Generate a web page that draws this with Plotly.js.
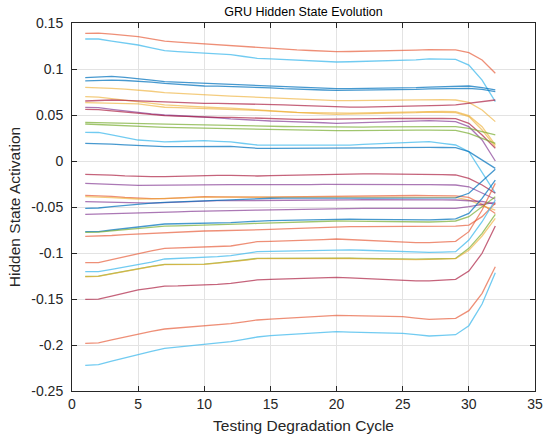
<!DOCTYPE html>
<html>
<head>
<meta charset="utf-8">
<script src="https://cdn.plot.ly/plotly-3.0.1.min.js"></script>
<style>html,body{margin:0;padding:0;background:#fff;}#chart{width:550px;height:441px;}</style>
</head>
<body>
<div id="chart"></div>
<script>
// Testing degradation cycles
const cycles = [1,2,3,4,5,6,7,8,9,10,11,12,13,14,15,16,17,18,19,20,21,22,23,24,25,26,27,28,29,30,31,32];

// Hidden state activations (one array per hidden unit)
const unit01 = [.1388,.1391,.1378,.1364,.1351,.1328,.1304,.1293,.1283,.1272,.1265,.1257,.1245,.1232,.1224,.1215,.1207,.1201,.1194,.1188,.119,.1192,.1195,.1197,.1199,.1205,.121,.1209,.1207,.1178,.1098,.0953];
const unit02 = [.1326,.1326,.1304,.1283,.1261,.123,.1199,.1189,.118,.117,.1163,.1156,.1136,.1116,.111,.1104,.1098,.1091,.1083,.1076,.1079,.1082,.1084,.1087,.109,.11,.1109,.1107,.1105,.1043,.088,.0645];
const unit03 = [.0906,.0913,.092,.091,.0899,.088,.0862,.0856,.085,.0844,.084,.0835,.0827,.0819,.0814,.0809,.0804,.0798,.0792,.0786,.0787,.0788,.0788,.0789,.079,.0797,.0804,.081,.0815,.0815,.0797,.0772];
const unit04 = [.087,.0875,.088,.0875,.087,.0857,.0844,.0834,.0825,.0815,.0813,.081,.0806,.0801,.0794,.0786,.0779,.0775,.0772,.0768,.0769,.077,.077,.0771,.0772,.0778,.0783,.0787,.079,.079,.0779,.0754];
const unit05 = [.080,.0798,.0789,.0781,.0772,.0758,.0743,.0734,.0726,.0717,.0711,.0705,.0699,.0692,.0685,.0677,.067,.0665,.0661,.0656,.0657,.0659,.066,.0662,.0663,.0667,.067,.0667,.0663,.0637,.0554,.0428];
const unit06 = [.0699,.0694,.0678,.0661,.0645,.0627,.0609,.0601,.0592,.0584,.0579,.0574,.0564,.0554,.0546,.0537,.0529,.0525,.0522,.0518,.0521,.0524,.0527,.053,.0533,.0539,.0544,.054,.0536,.0493,.0373,.0174];
const unit07 = [.0652,.0658,.0663,.0658,.0652,.0645,.0638,.0634,.0631,.0627,.0626,.0624,.0622,.062,.0615,.061,.0605,.0598,.0591,.0584,.0585,.0586,.0588,.0589,.059,.0594,.0598,.0604,.0609,.0627,.0645,.0663];
const unit08 = [.0634,.0632,.0628,.0624,.062,.0602,.0584,.058,.0576,.0572,.0567,.0561,.0556,.055,.0542,.0533,.0525,.0519,.0513,.0507,.0509,.0511,.0514,.0516,.0518,.0525,.0532,.0529,.0525,.0482,.0337,.0156];
const unit09 = [.0583,.058,.0562,.0543,.0525,.0513,.05,.0494,.0488,.0482,.047,.0457,.0448,.0438,.0435,.0431,.0428,.0422,.0416,.041,.0414,.0417,.0421,.0424,.0428,.0433,.0438,.0433,.0428,.0373,.0228,.0];
const unit10 = [.0562,.0558,.0545,.0531,.0518,.0506,.0493,.0487,.0481,.0475,.0475,.0475,.047,.0464,.046,.0457,.0453,.0453,.0453,.0453,.0455,.0457,.046,.0462,.0464,.0466,.0467,.0464,.046,.041,.0283,.0138];
const unit11 = [.042,.0418,.0415,.0413,.041,.0406,.0402,.0399,.0395,.0391,.0388,.0386,.0383,.038,.0378,.0375,.0373,.0371,.0368,.0366,.0367,.0369,.037,.0372,.0373,.0373,.0373,.0373,.0373,.0355,.0319,.0283];
const unit12 = [.0402,.0395,.0388,.038,.0373,.0369,.0366,.0362,.0359,.0355,.0352,.035,.0347,.0344,.034,.0337,.0333,.0332,.0331,.033,.0331,.0333,.0334,.0336,.0337,.0336,.0335,.0334,.0333,.0301,.0246,.0192];
const unit13 = [.0312,.031,.0283,.0255,.0228,.0218,.0207,.0212,.0216,.0221,.0214,.0207,.019,.0174,.0173,.0173,.0172,.017,.0169,.0167,.0173,.018,.0186,.0193,.0199,.0205,.021,.0192,.0174,.0101,-.012,-.035];
const unit14 = [.0192,.0192,.0184,.0175,.0167,.0162,.0156,.0157,.0159,.016,.016,.016,.0149,.0138,.0138,.0138,.0138,.0137,.0136,.0135,.0138,.0141,.0143,.0146,.0149,.0149,.0149,.0147,.0145,.0101,.001,-.008];
const unit15 = [-.0145,-.0146,-.0154,-.0162,-.017,-.017,-.017,-.0165,-.0161,-.0156,-.0156,-.0156,-.016,-.0163,-.0159,-.0156,-.0152,-.0148,-.0145,-.0141,-.0141,-.0141,-.0141,-.0141,-.0141,-.0143,-.0145,-.0149,-.0152,-.0188,-.0261,-.0351];
const unit16 = [-.0243,-.0246,-.0254,-.0259,-.0265,-.0263,-.0261,-.0258,-.0256,-.0254,-.0255,-.0256,-.0257,-.0258,-.0258,-.0257,-.0257,-.0256,-.0255,-.0254,-.0254,-.0254,-.0254,-.0254,-.0254,-.0256,-.0257,-.0259,-.0261,-.028,-.035,-.0416];
const unit17 = [-.0373,-.0375,-.0385,-.0396,-.0406,-.0408,-.0409,-.0402,-.0395,-.0388,-.039,-.0392,-.0393,-.0395,-.0393,-.039,-.0388,-.0385,-.0383,-.038,-.0379,-.0377,-.0376,-.0374,-.0373,-.0375,-.0377,-.0379,-.038,-.0395,-.047,-.057];
const unit18 = [-.0388,-.039,-.0398,-.0405,-.0413,-.0412,-.041,-.0404,-.0398,-.0393,-.0393,-.0393,-.0392,-.0392,-.0391,-.039,-.0389,-.0389,-.0388,-.0388,-.0388,-.0388,-.0387,-.0387,-.0387,-.039,-.0392,-.0394,-.0395,-.0424,-.0485,-.0535];
const unit19 = [-.0442,-.0445,-.0451,-.0456,-.046,-.0457,-.0453,-.0446,-.0438,-.0431,-.0431,-.0431,-.0431,-.0431,-.043,-.0429,-.0428,-.0427,-.0425,-.0424,-.0423,-.0421,-.042,-.0418,-.0417,-.0419,-.042,-.0422,-.0424,-.0431,-.044,-.047];
const unit20 = [-.0514,-.0511,-.0496,-.0482,-.0467,-.0458,-.0449,-.0443,-.0437,-.0431,-.0428,-.0424,-.0415,-.0406,-.0405,-.0403,-.0402,-.0403,-.0405,-.0406,-.0405,-.0404,-.0404,-.0403,-.0402,-.0404,-.0406,-.0403,-.04,-.0351,-.0225,-.009];
const unit21 = [-.058,-.0577,-.0574,-.0572,-.0569,-.0564,-.0559,-.0553,-.0548,-.0543,-.0541,-.0538,-.0536,-.0533,-.053,-.0528,-.0525,-.0523,-.052,-.0518,-.0517,-.0516,-.0516,-.0515,-.0514,-.0514,-.0514,-.0514,-.0514,-.0496,-.047,-.045];
const unit22 = [-.0768,-.0768,-.075,-.0732,-.0714,-.07,-.0685,-.0682,-.068,-.0677,-.0674,-.067,-.0661,-.0652,-.0648,-.0645,-.0641,-.0637,-.0634,-.063,-.0632,-.0634,-.0637,-.0639,-.0641,-.0641,-.0641,-.0636,-.063,-.0569,-.0406,-.0207];
const unit23 = [-.0775,-.0773,-.0759,-.0746,-.0732,-.072,-.0707,-.0705,-.0702,-.07,-.0694,-.0689,-.0683,-.0678,-.0673,-.0668,-.0663,-.0659,-.0656,-.0652,-.0653,-.0655,-.0656,-.0658,-.0659,-.0661,-.0663,-.0658,-.0652,-.0605,-.0496,-.0388];
const unit24 = [-.0819,-.0818,-.081,-.0801,-.0793,-.0787,-.078,-.0774,-.0767,-.0761,-.0758,-.0756,-.0753,-.075,-.0744,-.0738,-.0732,-.0726,-.072,-.0714,-.0714,-.0714,-.0714,-.0714,-.0714,-.0712,-.0711,-.0709,-.0707,-.0696,-.0605,-.046];
const unit25 = [-.1105,-.1105,-.1071,-.1038,-.1004,-.0977,-.0949,-.0945,-.0942,-.0938,-.0931,-.0924,-.0901,-.0877,-.0873,-.087,-.0866,-.086,-.0854,-.0848,-.0856,-.0864,-.0872,-.088,-.0888,-.0888,-.0888,-.0881,-.0873,-.0768,-.0533,-.0243];
const unit26 = [-.1203,-.1203,-.1179,-.1154,-.113,-.1098,-.1065,-.106,-.1056,-.1051,-.104,-.1029,-.1008,-.0986,-.0982,-.0979,-.0975,-.097,-.0965,-.096,-.0965,-.097,-.0976,-.0981,-.0986,-.099,-.0993,-.099,-.0986,-.0859,-.066,-.0424];
const unit27 = [-.1254,-.1251,-.1223,-.1195,-.1167,-.1145,-.1123,-.1122,-.1121,-.112,-.1107,-.1094,-.1076,-.1058,-.1057,-.1055,-.1054,-.1053,-.1052,-.1051,-.1055,-.1058,-.1062,-.1065,-.1069,-.1067,-.1065,-.1062,-.1058,-.0949,-.0786,-.058];
const unit28 = [-.1258,-.1255,-.1227,-.1199,-.1171,-.1149,-.1127,-.1126,-.1125,-.1124,-.1111,-.1098,-.108,-.1062,-.1061,-.106,-.1059,-.1058,-.1057,-.1056,-.106,-.1063,-.1067,-.107,-.1073,-.1071,-.107,-.1066,-.1062,-.097,-.0815,-.0623];
const unit29 = [-.1504,-.1502,-.1469,-.1435,-.1402,-.1381,-.1359,-.1357,-.1354,-.1352,-.1341,-.133,-.1312,-.1293,-.1287,-.1281,-.1275,-.1271,-.1268,-.1264,-.1271,-.1279,-.1286,-.1294,-.1301,-.1303,-.1304,-.1295,-.1286,-.1196,-.1003,-.0707];
const unit30 = [-.1982,-.1976,-.1944,-.1912,-.188,-.1853,-.1826,-.1815,-.1804,-.1793,-.1781,-.1768,-.1748,-.1728,-.1718,-.171,-.1702,-.1693,-.1685,-.1677,-.168,-.1683,-.1686,-.1689,-.1692,-.1707,-.1721,-.1716,-.171,-.1627,-.1438,-.1149];
const unit31 = [-.2221,-.2214,-.2176,-.2139,-.2101,-.2069,-.2036,-.2023,-.201,-.1997,-.1981,-.1964,-.1939,-.1913,-.1898,-.1889,-.1881,-.1872,-.1864,-.1855,-.1859,-.1862,-.1866,-.1869,-.1873,-.1888,-.1902,-.1895,-.1888,-.179,-.1554,-.1214];

const units = [unit01,unit02,unit03,unit04,unit05,unit06,unit07,unit08,unit09,unit10,unit11,unit12,unit13,unit14,unit15,unit16,unit17,unit18,unit19,unit20,unit21,unit22,unit23,unit24,unit25,unit26,unit27,unit28,unit29,unit30,unit31];
const unitColorNames = ['orange','cyan','blue','blue','yellow','yellow','maroon','yellow','purple','maroon','green','green','cyan','blue','maroon','purple','orange','yellow','purple','blue','purple','blue','green','orange','orange','cyan','green','yellow','maroon','orange','cyan'];

const yTickVals = [-0.25,-0.2,-0.15,-0.1,-0.05,0,0.05,0.1,0.15];
const yTickText = ['-0.25','-0.2','-0.15','-0.1','-0.05','0','0.05','0.1','0.15'];
const xTickVals = [0,5,10,15,20,25,30,35];

const palette = {
  blue:'rgba(0,114,189,0.72)',
  orange:'rgba(230,90,55,0.68)',
  yellow:'rgba(237,170,40,0.6)',
  purple:'rgba(126,47,142,0.65)',
  green:'rgba(119,172,48,0.7)',
  cyan:'rgba(77,190,238,0.8)',
  maroon:'rgba(170,25,60,0.68)'
};

const traces = units.map((u,i)=>({
  x: cycles, y: u, type:'scatter', mode:'lines',
  line:{color: palette[unitColorNames[i]], width:1.3},
  hoverinfo:'skip', showlegend:false
}));

const fontFam = '"Liberation Sans", Arial, Helvetica, sans-serif';
const axisCommon = {
  showgrid:true, gridcolor:'#e3e3e3', gridwidth:1,
  zeroline:false, showline:true, linecolor:'#262626', linewidth:1,
  mirror:'ticks', ticks:'inside', ticklen:5, tickcolor:'#262626',
  tickfont:{family:fontFam, size:14, color:'#262626'}
};

const layout = {
  width:550, height:441,
  margin:{l:72, r:15, t:23, b:50},
  paper_bgcolor:'#ffffff', plot_bgcolor:'#ffffff',
  font:{family:fontFam, color:'#262626'},
  title:{text:'GRU Hidden State Evolution', font:{family:fontFam, size:12.5, color:'#000'}, x:0.5, xref:'paper', y:0.973, yref:'container', yanchor:'middle'},
  xaxis:Object.assign({}, axisCommon, {range:[0,35], tickvals:xTickVals,
    title:{text:'Testing Degradation Cycle', font:{family:fontFam, size:15.5, color:'#262626'}, standoff:9}}),
  yaxis:Object.assign({}, axisCommon, {range:[-0.25,0.15], tickvals:yTickVals, ticktext:yTickText, ticklabelstandoff:5,
    title:{text:'Hidden State Activation', font:{family:fontFam, size:15.5, color:'#262626'}, standoff:6}})
};

Plotly.newPlot('chart', traces, layout, {displayModeBar:false, staticPlot:true});
</script>
</body>
</html>
